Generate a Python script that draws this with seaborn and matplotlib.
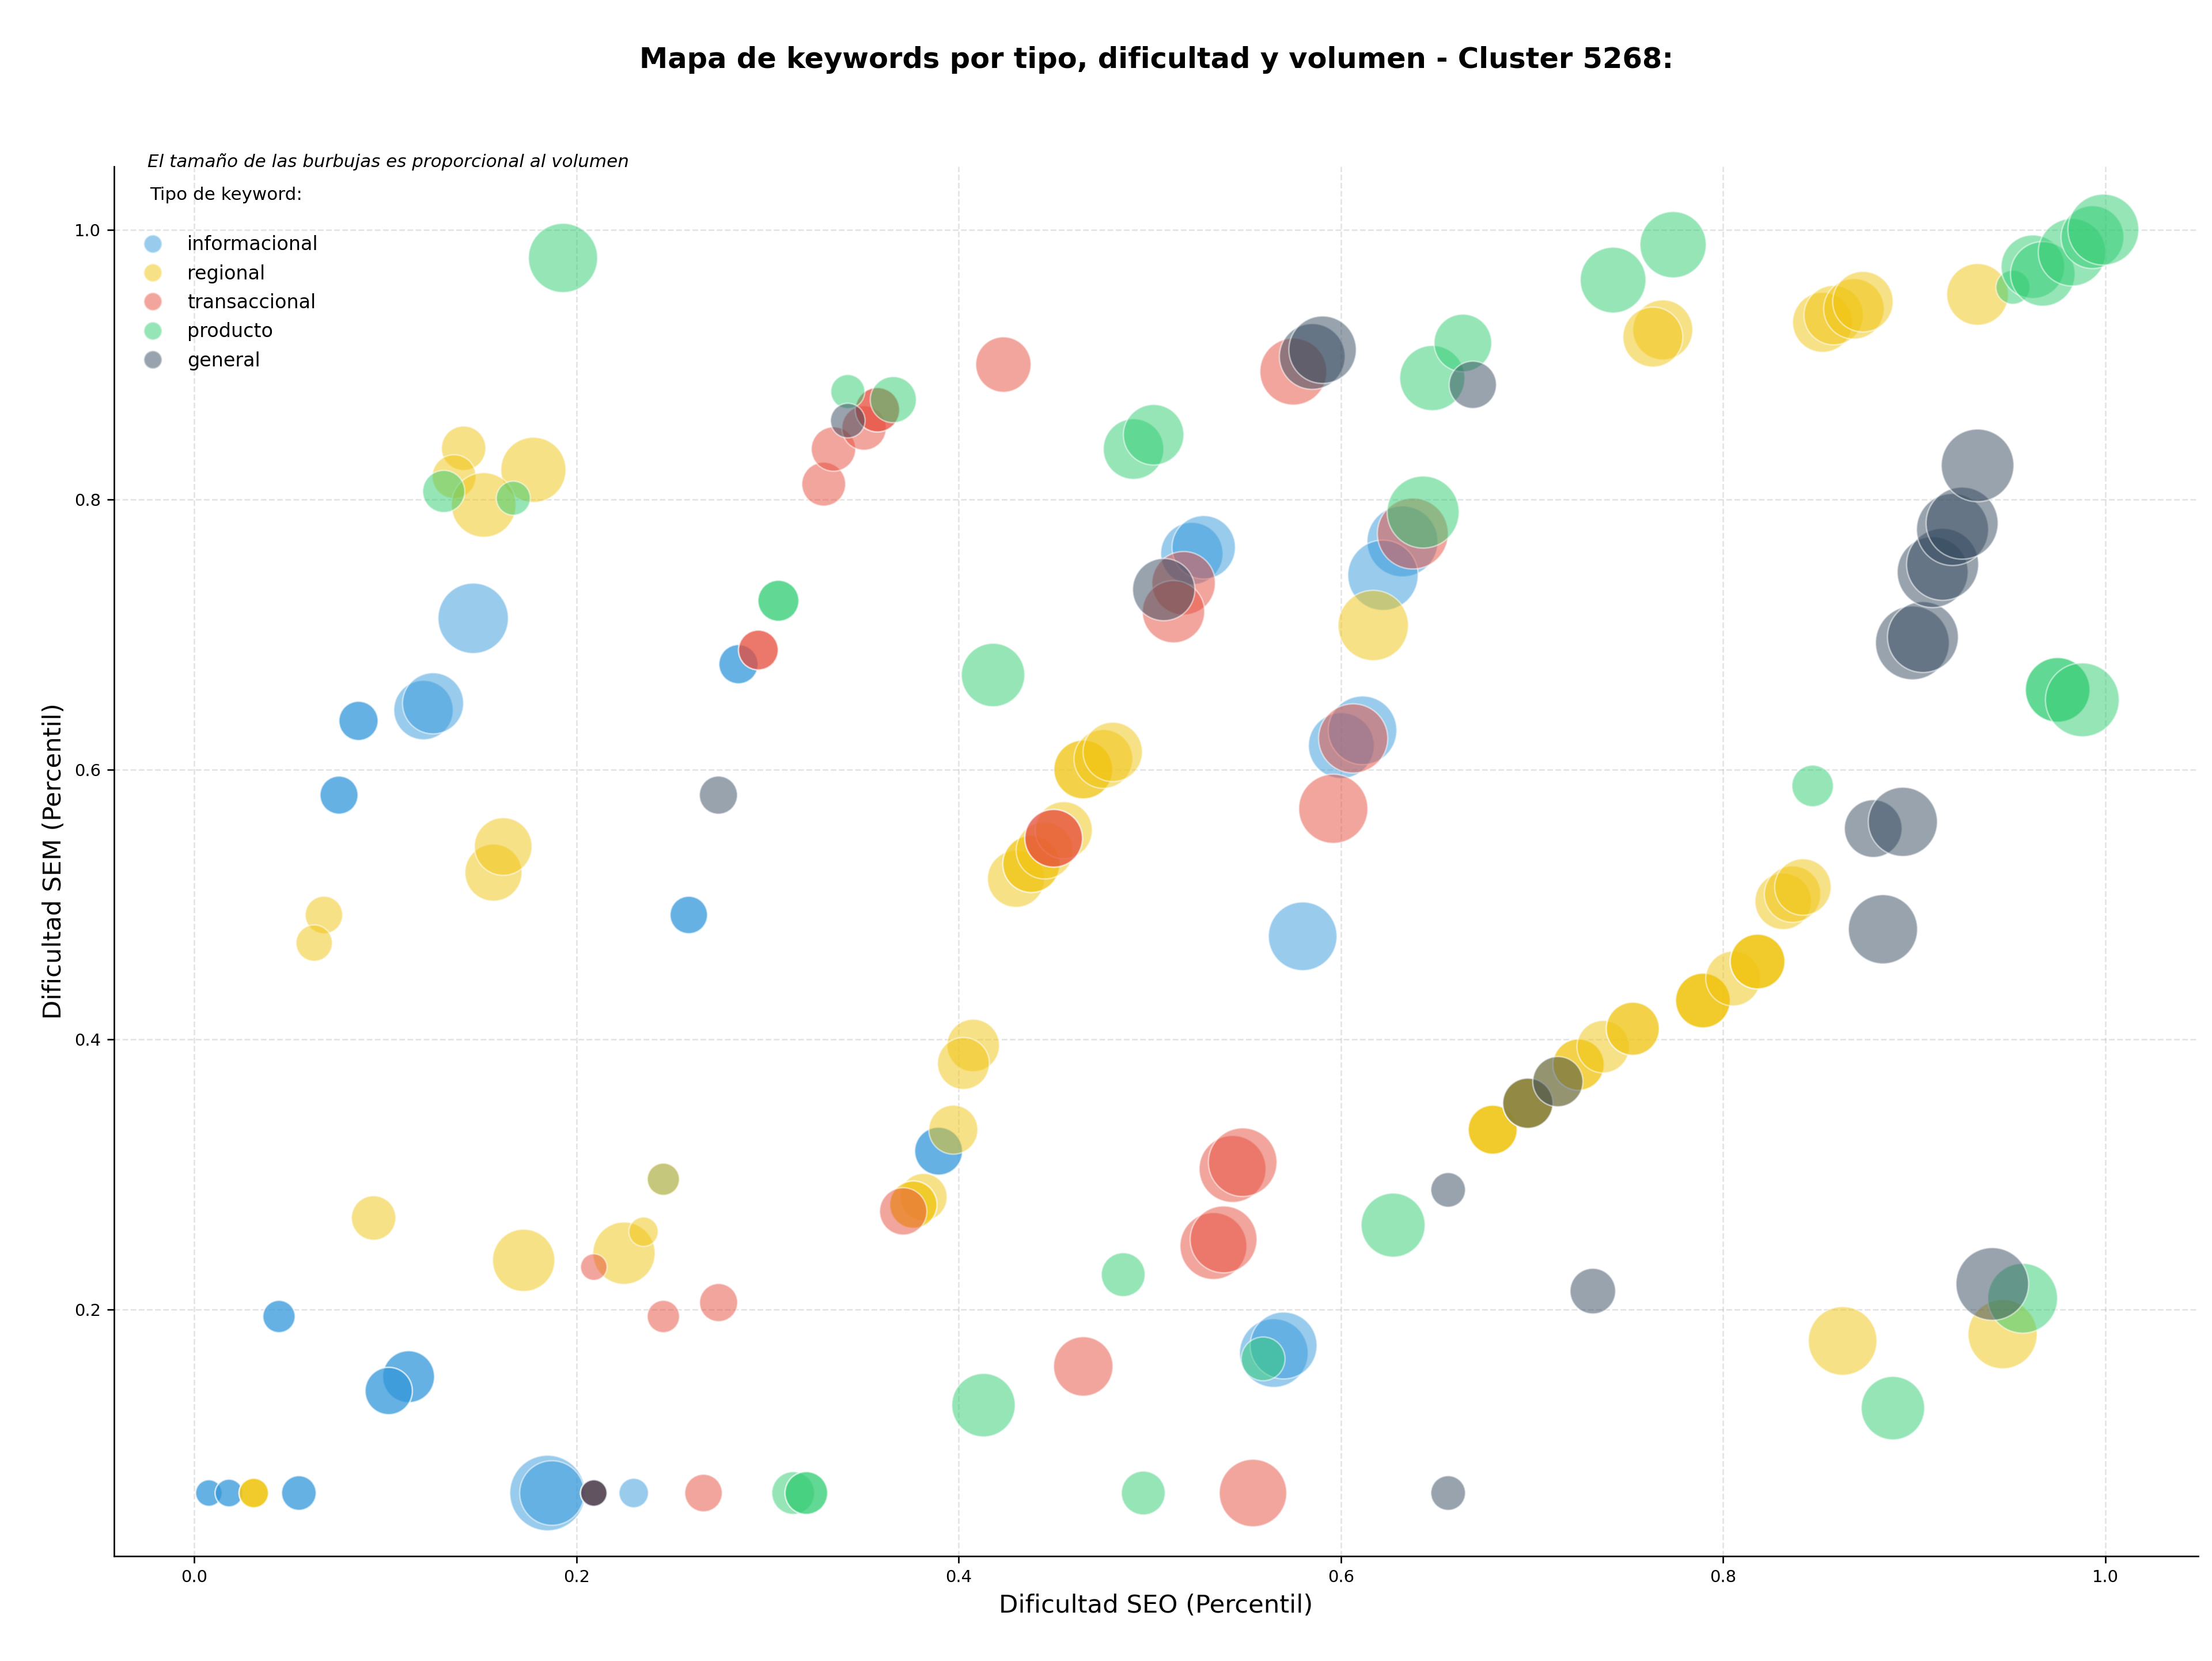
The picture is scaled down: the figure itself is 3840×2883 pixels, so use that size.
import pandas as pd
import seaborn as sns
import matplotlib.pyplot as plt
from matplotlib.lines import Line2D

tipos = ["informacional", "regional", "transaccional", "producto", "general"]
colores = ["#3498db", "#f1c40f", "#e74c3c", "#2ecc71", "#34495e"]

# dificultad SEO, dificultad SEM, volumen, numero de keywords en el mismo punto
info_seo = [0.0077, 0.0182, 0.0548, 0.1849, 0.1872, 0.2300, 0.0444, 0.1122, 0.1018, 0.2588, 0.3895, 0.0758, 0.0860,
            0.1200, 0.1250, 0.1460, 0.2848, 0.5220, 0.5282, 0.6322, 0.6220, 0.6002, 0.6113, 0.5800, 0.5649, 0.5700,
            0.2455]
info_sem = [0.0639, 0.0639, 0.0639, 0.0639, 0.0639, 0.0639, 0.1947, 0.1501, 0.1395, 0.4922, 0.3172, 0.5810, 0.6360,
            0.6440, 0.6490, 0.7120, 0.6780, 0.7600, 0.7646, 0.7690, 0.7439, 0.6177, 0.6290, 0.4764, 0.1676, 0.1732,
            0.2964]
info_vol = [190, 207, 324, 1544, 1129, 234, 282, 729, 605, 380, 620, 392, 416,
            955, 1011, 1340, 416, 1050, 1089, 1362, 1340, 1170, 1274, 1274, 1274, 1211,
            282]
info_rep = [2, 2, 2, 1, 1, 1, 2, 2, 2, 2, 2, 2, 2,
            1, 1, 1, 2, 1, 1, 1, 1, 1, 1, 1, 1, 1,
            1]

reg_seo = [0.0312, 0.0679, 0.0628, 0.0939, 0.1724, 0.2249, 0.2351, 0.2455, 0.1566, 0.1617, 0.1410, 0.1360,
           0.1775, 0.1515, 0.4076, 0.4025, 0.3972, 0.3816, 0.3763, 0.4300, 0.4380, 0.4450, 0.4550, 0.4652,
           0.4757, 0.4806, 0.6169, 0.7684, 0.7632, 0.8520, 0.8578, 0.8684, 0.8731, 0.9331, 0.6794, 0.6978,
           0.7135, 0.7243, 0.7372, 0.7527, 0.7894, 0.8052, 0.8180, 0.8314, 0.8363, 0.8417, 0.8625, 0.9462]
reg_sem = [0.0639, 0.4922, 0.4714, 0.2677, 0.2363, 0.2416, 0.2575, 0.2964, 0.5236, 0.5429, 0.8380, 0.8170,
           0.8220, 0.7960, 0.3955, 0.3822, 0.3331, 0.2832, 0.2776, 0.5190, 0.5300, 0.5400, 0.5550, 0.6000,
           0.6078, 0.6130, 0.7067, 0.9257, 0.9204, 0.9313, 0.9366, 0.9413, 0.9466, 0.9520, 0.3331, 0.3527,
           0.3687, 0.3813, 0.3946, 0.4079, 0.4288, 0.4451, 0.4577, 0.5023, 0.5076, 0.5129, 0.1766, 0.1816]
reg_vol = [234, 380, 357, 534, 1050, 1050, 234, 282, 882, 900, 534, 520,
           1149, 1129, 745, 729, 650, 605, 605, 882, 882, 882, 882, 936,
           936, 955, 1340, 973, 973, 973, 955, 992, 992, 1030, 650, 681,
           681, 713, 745, 762, 812, 812, 812, 864, 864, 864, 1274, 1296]
reg_rep = [3, 1, 1, 1, 1, 1, 1, 1, 1, 1, 1, 1,
           1, 1, 1, 1, 1, 1, 2, 1, 2, 1, 1, 2,
           1, 1, 1, 1, 1, 1, 1, 1, 1, 1, 3, 3,
           1, 2, 1, 2, 3, 1, 3, 1, 1, 1, 1, 1]

tra_seo = [0.2091, 0.2665, 0.5540, 0.2091, 0.2455, 0.2744, 0.3710, 0.4652, 0.5333, 0.5386, 0.5433, 0.5486, 0.4497,
           0.5960, 0.6064, 0.2952, 0.5177, 0.5124, 0.6376, 0.3294, 0.3345, 0.3505, 0.3575, 0.4234, 0.5751]
tra_sem = [0.0639, 0.0639, 0.0639, 0.2313, 0.1947, 0.2050, 0.2726, 0.1577, 0.2469, 0.2518, 0.3040, 0.3090, 0.5490,
           0.5709, 0.6230, 0.6885, 0.7380, 0.7169, 0.7748, 0.8114, 0.8374, 0.8530, 0.8665, 0.9000, 0.8948]
tra_vol = [190, 380, 1232, 190, 282, 392, 605, 955, 1211, 1211, 1211, 1274, 900,
           1296, 1296, 428, 1089, 1050, 1362, 520, 534, 534, 534, 829, 1211]
tra_rep = [2, 1, 1, 1, 1, 1, 1, 1, 1, 1, 1, 1, 2,
           1, 1, 2, 1, 1, 1, 1, 1, 1, 2, 1, 1]

pro_seo = [0.3134, 0.3203, 0.4966, 0.4130, 0.5593, 0.4861, 0.6273, 0.8888, 0.9567, 0.8468, 0.9750, 0.9879,
           0.4180, 0.3057, 0.1306, 0.1670, 0.1930, 0.3420, 0.3658, 0.4915, 0.5020, 0.6430, 0.6478, 0.6638,
           0.7424, 0.7738, 0.9516, 0.9620, 0.9672, 0.9825, 0.9932, 0.9989]
pro_sem = [0.0639, 0.0639, 0.0639, 0.1290, 0.1633, 0.2257, 0.2624, 0.1268, 0.2082, 0.5878, 0.6590, 0.6516,
           0.6700, 0.7250, 0.8060, 0.8010, 0.9790, 0.8800, 0.8740, 0.8374, 0.8480, 0.7907, 0.8900, 0.9160,
           0.9626, 0.9888, 0.9573, 0.9725, 0.9672, 0.9832, 0.9944, 1.0000]
pro_vol = [493, 493, 520, 1089, 520, 520, 1109, 1089, 1318, 467, 1129, 1475,
           1089, 454, 480, 313, 1296, 313, 576, 992, 992, 1406, 1149, 900,
           1170, 1190, 313, 1089, 1129, 1232, 1070, 1362]
pro_rep = [1, 2, 1, 1, 1, 1, 1, 1, 1, 1, 2, 1,
           1, 2, 1, 1, 1, 1, 1, 1, 1, 1, 1, 1,
           1, 1, 1, 1, 1, 1, 1, 1]

gen_seo = [0.2091, 0.6561, 0.6561, 0.7318, 0.9408, 0.2743, 0.6978, 0.7135, 0.8785, 0.8940, 0.8836,
           0.8990, 0.9045, 0.9096, 0.9148, 0.9200, 0.9250, 0.9331, 0.5073, 0.3420, 0.5850, 0.5904, 0.6690]
gen_sem = [0.0639, 0.0639, 0.2885, 0.2135, 0.2188, 0.5810, 0.3527, 0.3687, 0.5562, 0.5612, 0.4816,
           0.6938, 0.6981, 0.7462, 0.7520, 0.7778, 0.7825, 0.8253, 0.7333, 0.8585, 0.9060, 0.9110, 0.8850]
gen_vol = [190, 324, 324, 562, 1429, 392, 681, 681, 900, 1296, 1296,
           1475, 1362, 1362, 1406, 1406, 1406, 1429, 1050, 324, 1170, 1232, 605]
gen_rep = [2, 1, 1, 1, 1, 1, 1, 1, 1, 1, 1,
           1, 1, 1, 1, 1, 1, 1, 1, 1, 1, 1, 1]

series = [
    ("informacional", info_seo, info_sem, info_vol, info_rep),
    ("regional", reg_seo, reg_sem, reg_vol, reg_rep),
    ("transaccional", tra_seo, tra_sem, tra_vol, tra_rep),
    ("producto", pro_seo, pro_sem, pro_vol, pro_rep),
    ("general", gen_seo, gen_sem, gen_vol, gen_rep),
]

rows = []
for tipo, xs, ys, vols, reps in series:
    for x, y, v, n in zip(xs, ys, vols, reps):
        rows += [(tipo, x, y, v)] * n
df = pd.DataFrame(rows, columns=["tipo", "seo", "sem", "volumen"])

vmin, vmax = df["volumen"].min(), df["volumen"].max()

fig = plt.figure(figsize=(16, 12.0125), dpi=240)
ax = fig.add_axes([0.0516, 0.0631, 0.9421, 0.8367])

sns.scatterplot(data=df, x="seo", y="sem", hue="tipo", hue_order=tipos, palette=colores,
                size="volumen", sizes=(vmin, vmax), size_norm=(vmin, vmax),
                alpha=0.5, edgecolor="white", linewidth=0.8, legend=False, ax=ax)

ax.grid(True, linestyle="--", alpha=0.35)
ax.set_axisbelow(True)
sns.despine(ax=ax)
ax.tick_params(labelsize=8.7)
ax.set_xlabel("Dificultad SEO (Percentil)", fontsize=13)
ax.set_ylabel("Dificultad SEM (Percentil)", fontsize=13)

handles = [Line2D([0], [0], marker="o", linestyle="", markerfacecolor=c, markeredgecolor="white",
                  markersize=9.5, alpha=0.5) for c in colores]
leg = ax.legend(handles, tipos, title="Tipo de keyword:\n", title_fontsize=9.3, fontsize=10,
                labelspacing=0.52, loc="upper left", bbox_to_anchor=(0.001, 0.998), frameon=False)
leg.get_title().set_linespacing(1.4)

fig.text(0.5227, 0.964, "Mapa de keywords por tipo, dificultad y volumen - Cluster 5268:",
         ha="center", va="center", fontsize=14.85, fontweight="bold")
fig.text(0.0667, 0.8994, "El tamaño de las burbujas es proporcional al volumen",
         ha="left", va="baseline", fontsize=9.3, style="italic")

fig.savefig("out.png", dpi=240)
